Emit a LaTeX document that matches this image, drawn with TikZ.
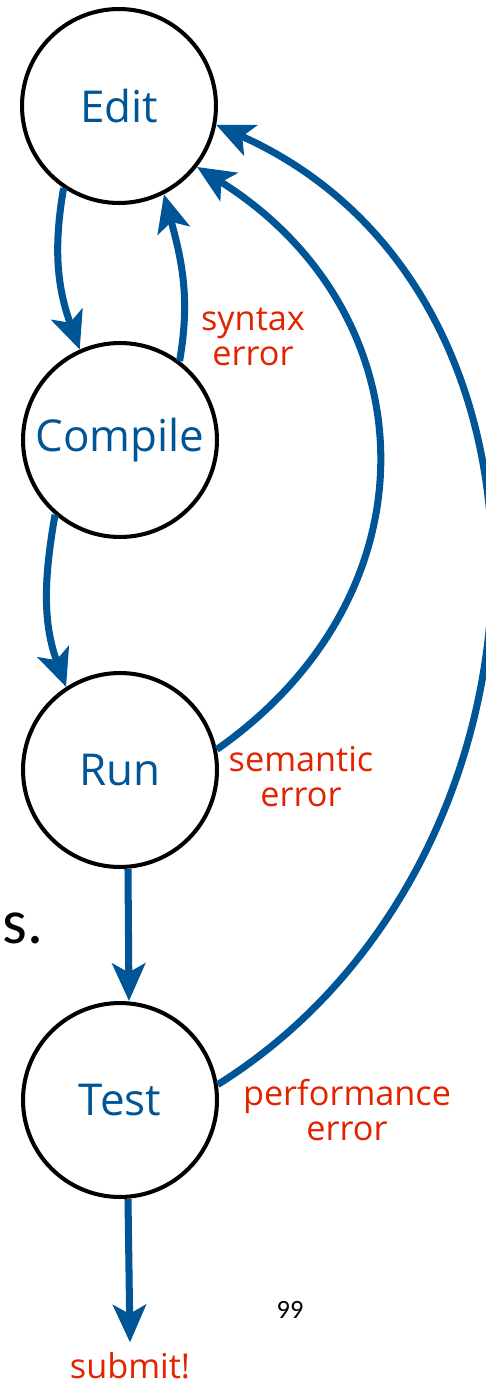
\documentclass[tikz,border=0pt]{standalone}
\usepackage{fontspec}
\setmainfont{Open Sans}
\newfontfamily\slidefont{Carlito}
\usepackage{tikz}
\usetikzlibrary{arrows.meta,positioning}
\definecolor{flowblue}{RGB}{0,85,150}
\definecolor{errred}{RGB}{225,35,0}
\tikzstyle{stage}=[circle,draw=black,line width=2.3pt,inner sep=0pt,minimum size=3.88cm,text=flowblue,font=\fontsize{25}{30}\selectfont]
\tikzstyle{flow}=[->,draw=flowblue,line width=4pt,>={Stealth[length=0.75cm,width=0.66cm,inset=0.18cm]}]
\tikzstyle{errlabel}=[text=errred,align=center,inner sep=0pt,font=\fontsize{19.5}{20}\selectfont]

\begin{document}
\begin{tikzpicture}[x=0.02cm,y=0.02cm]
    \useasboundingbox (0,0) rectangle (486,-1387);

    % Knoten
    \node[stage] (edit) at (119,-106) {Edit};
    \node[stage] (compile) at (120,-440) {Compile};
    \node[stage] (run) at (120,-770) {Run};
    \node[stage] (test) at (120,-1100) {Test};
    \node[errlabel] (submit) at (130,-1366) {submit!};

    % Fehler
    \node[errlabel] (syntax) at (253,-337) {syntax\\error};
    \node[errlabel] (semantic) at (301,-777) {semantic\\error};
    \node[errlabel] (perf) at (347,-1110) {performance\\error};

    % Rand der Folie
    \node[anchor=base west,inner sep=0pt,font=\slidefont\fontsize{36}{40}\selectfont] (slide) at (2,-943) {s.};
    \node[anchor=base,inner sep=0pt,font=\slidefont\fontsize{15}{18}\selectfont] (page) at (290,-1318) {99};

    % Ablauf
    \draw[flow] (edit.236) to[out=-100,in=110] (compile.114);
    \draw[flow] (compile.53) to[out=80,in=-75] (edit.297);
    \draw[flow] (compile.229) to[out=-100,in=110] (run.123);
    \draw[flow] ([xshift=0.16cm]run.south) -- ([xshift=0.18cm]test.north);
    \draw[flow] ([xshift=0.16cm]test.south) -- ([yshift=0.2cm]submit.north);

    % Rueckspruenge
    \draw[flow] (run.12) to[out=35,in=-32,looseness=1.2] (edit.322);
    \draw[flow] (test.9) to[out=32,in=-24,looseness=1.1] (edit.349);

\end{tikzpicture}
\end{document}
